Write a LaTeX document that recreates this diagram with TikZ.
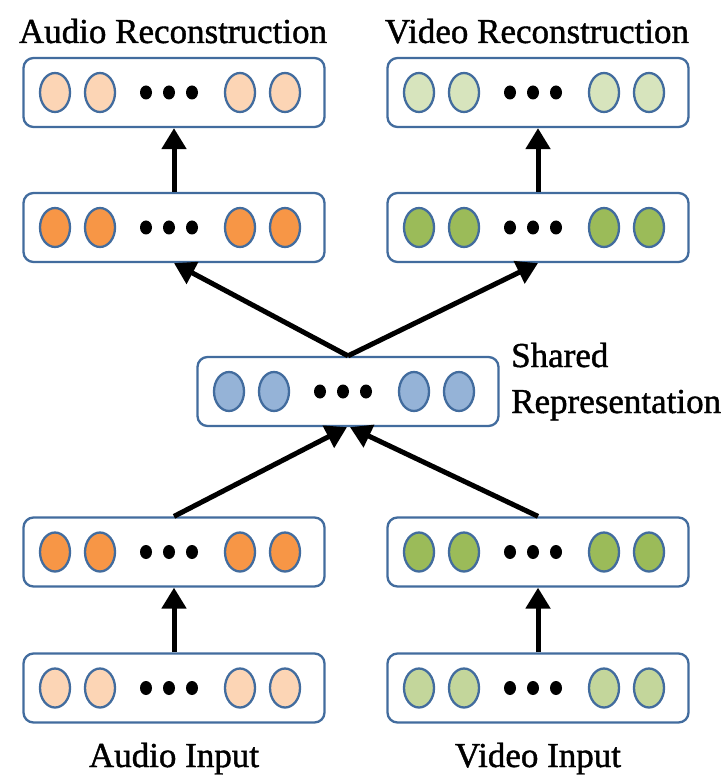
\documentclass[tikz,border=0pt]{standalone}
\usepackage{fontspec}
\setmainfont{Liberation Serif}
\newfontfamily\capfont[FakeBold=1.2]{Liberation Serif}
\usetikzlibrary{arrows.meta}

\definecolor{rim}{RGB}{66,108,158}
\definecolor{peach}{HTML}{FCD5B5}
\definecolor{orangeunit}{HTML}{F79646}
\definecolor{palegreen}{HTML}{D7E4BD}
\definecolor{sagegreen}{HTML}{C3D69B}
\definecolor{greenunit}{HTML}{9BBB59}
\definecolor{blueunit}{HTML}{95B3D7}

\tikzset{
  layerbox/.style={draw=rim, line width=2.3pt, rounded corners=10pt,
    minimum width=301pt, minimum height=69pt, inner sep=0pt, fill=white},
  unit/.style={draw=rim, line width=2.3pt},
  link/.style={line width=5pt, -{Triangle[length=21pt,width=24pt]}},
  caption/.style={inner sep=0pt, font=\capfont\fontsize{35}{42}\selectfont},
}

% one layer: rounded box with four units and an ellipsis
\newcommand\neurallayer[4]{% name, x, y, unit fill
  \node[layerbox] (#1) at (#2,#3) {};
  \foreach \dx in {-119,-74,66,111}
    \draw[unit, fill=#4] ([xshift=\dx pt]#1.center) ellipse [x radius=15pt, y radius=19.5pt];
  \foreach \dx in {-28,-5,18}
    \fill ([xshift=\dx pt]#1.center) ellipse [x radius=6pt, y radius=7pt];
}

\begin{document}
\begin{tikzpicture}[x=1pt, y=-1pt]
\useasboundingbox (0,0) rectangle (726,775);

% layers
\neurallayer{arec}{174}{92.5}{peach}
\neurallayer{vrec}{538}{92.5}{palegreen}
\neurallayer{ahid2}{174}{227.5}{orangeunit}
\neurallayer{vhid2}{538}{227.5}{greenunit}
\neurallayer{shared}{348}{391.5}{blueunit}
\neurallayer{ahid1}{174}{552}{orangeunit}
\neurallayer{vhid1}{538}{552}{greenunit}
\neurallayer{ain}{174}{688}{peach}
\neurallayer{vin}{538}{688}{sagegreen}

% captions
\node[caption, anchor=base] (arectxt) at (173,43) {Audio Reconstruction};
\node[caption, anchor=base] (vrectxt) at (537,43) {Video Reconstruction};
\node[caption, anchor=base] (aintxt) at (174,767) {Audio Input};
\node[caption, anchor=base] (vintxt) at (538,767) {Video Input};
\node[caption, anchor=base west] (sharedtxt) at (511,367) {Shared};
\node[caption, anchor=base west] (reprtxt) at (511,413) {Representation};

% connections
\draw[link] (ain.north) -- (ahid1.south);
\draw[link] (vin.north) -- (vhid1.south);
\draw[link] (ahid1.north) -- ([xshift=-1pt]shared.south);
\draw[link] (vhid1.north) -- ([xshift=2pt]shared.south);
\draw[link] (shared.north) -- (ahid2.south);
\draw[link] (shared.north) -- (vhid2.south);
\draw[link] (ahid2.north) -- (arec.south);
\draw[link] (vhid2.north) -- (vrec.south);
\end{tikzpicture}
\end{document}
